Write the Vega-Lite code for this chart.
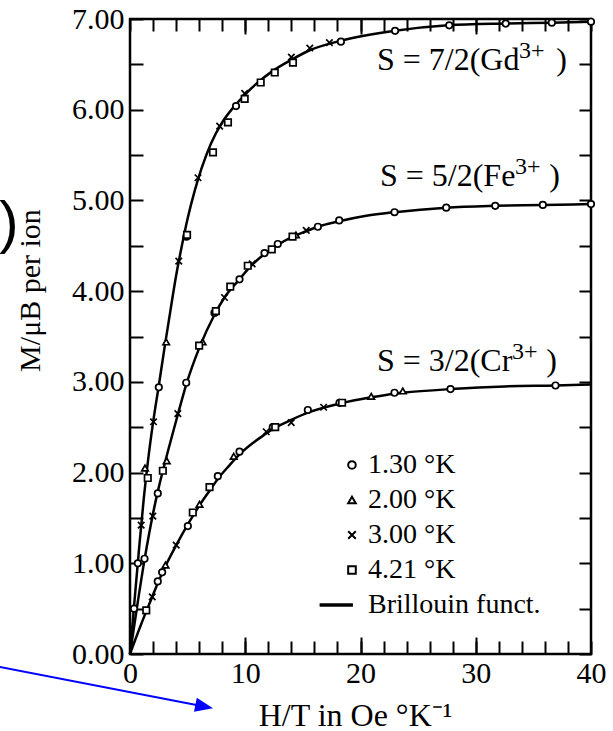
{
  "$schema": "https://vega.github.io/schema/vega-lite/v6.json",
  "width": 461,
  "height": 635,
  "autosize": {"type": "none"},
  "padding": {"left": 130, "top": 19, "right": 22, "bottom": 77},
  "background": "white",
  "config": {
    "font": "Liberation Serif",
    "view": {"stroke": "black", "strokeWidth": 2.5},
    "axis": {
      "grid": false,
      "domain": false,
      "tickColor": "black",
      "tickWidth": 2,
      "labelColor": "black",
      "titleColor": "black",
      "labelFont": "Liberation Serif",
      "titleFont": "Liberation Serif",
      "labelFlush": false,
      "labelOverlap": false,
      "titleFontWeight": "normal"
    }
  },
  "datasets": {
    "curves": [
      {"S": "7/2", "x": 0, "y": 0}, {"S": "7/2", "x": 0.4, "y": 0.6}, {"S": "7/2", "x": 0.8, "y": 1.18}, {"S": "7/2", "x": 1.2, "y": 1.72},
      {"S": "7/2", "x": 1.6, "y": 2.17}, {"S": "7/2", "x": 2.0, "y": 2.55}, {"S": "7/2", "x": 2.5, "y": 2.96}, {"S": "7/2", "x": 3.0, "y": 3.38},
      {"S": "7/2", "x": 3.5, "y": 3.78}, {"S": "7/2", "x": 4.0, "y": 4.17}, {"S": "7/2", "x": 4.5, "y": 4.5}, {"S": "7/2", "x": 5.0, "y": 4.8},
      {"S": "7/2", "x": 5.6, "y": 5.1}, {"S": "7/2", "x": 6.2, "y": 5.35}, {"S": "7/2", "x": 7.0, "y": 5.62}, {"S": "7/2", "x": 8.0, "y": 5.86},
      {"S": "7/2", "x": 9.0, "y": 6.03}, {"S": "7/2", "x": 10.0, "y": 6.17}, {"S": "7/2", "x": 11.0, "y": 6.29}, {"S": "7/2", "x": 12.3, "y": 6.42},
      {"S": "7/2", "x": 14.0, "y": 6.55}, {"S": "7/2", "x": 15.5, "y": 6.65}, {"S": "7/2", "x": 18.3, "y": 6.76}, {"S": "7/2", "x": 23.0, "y": 6.87},
      {"S": "7/2", "x": 27.6, "y": 6.93}, {"S": "7/2", "x": 32.6, "y": 6.95}, {"S": "7/2", "x": 36.6, "y": 6.96}, {"S": "7/2", "x": 40, "y": 6.97},
      {"S": "5/2", "x": 0, "y": 0}, {"S": "5/2", "x": 0.6, "y": 0.51}, {"S": "5/2", "x": 1.26, "y": 1.04}, {"S": "5/2", "x": 2.0, "y": 1.55},
      {"S": "5/2", "x": 2.41, "y": 1.79}, {"S": "5/2", "x": 2.85, "y": 2.02}, {"S": "5/2", "x": 3.3, "y": 2.24}, {"S": "5/2", "x": 4.15, "y": 2.64},
      {"S": "5/2", "x": 4.88, "y": 2.97}, {"S": "5/2", "x": 6.03, "y": 3.38}, {"S": "5/2", "x": 7.33, "y": 3.74}, {"S": "5/2", "x": 8.2, "y": 3.93},
      {"S": "5/2", "x": 9.5, "y": 4.13}, {"S": "5/2", "x": 10.22, "y": 4.24}, {"S": "5/2", "x": 11.67, "y": 4.41}, {"S": "5/2", "x": 12.82, "y": 4.51},
      {"S": "5/2", "x": 14.13, "y": 4.6}, {"S": "5/2", "x": 15.29, "y": 4.66}, {"S": "5/2", "x": 16.3, "y": 4.71}, {"S": "5/2", "x": 18.15, "y": 4.77},
      {"S": "5/2", "x": 20.5, "y": 4.83}, {"S": "5/2", "x": 22.95, "y": 4.87}, {"S": "5/2", "x": 27.44, "y": 4.92}, {"S": "5/2", "x": 31.69, "y": 4.94},
      {"S": "5/2", "x": 35.82, "y": 4.95}, {"S": "5/2", "x": 40, "y": 4.96},
      {"S": "3/2", "x": 0, "y": 0}, {"S": "3/2", "x": 0.7, "y": 0.24}, {"S": "3/2", "x": 1.41, "y": 0.47}, {"S": "3/2", "x": 1.93, "y": 0.63},
      {"S": "3/2", "x": 2.41, "y": 0.78}, {"S": "3/2", "x": 2.79, "y": 0.89}, {"S": "3/2", "x": 3.08, "y": 0.97}, {"S": "3/2", "x": 4.01, "y": 1.2},
      {"S": "3/2", "x": 5.02, "y": 1.43}, {"S": "3/2", "x": 5.45, "y": 1.52}, {"S": "3/2", "x": 6.03, "y": 1.64}, {"S": "3/2", "x": 6.9, "y": 1.8},
      {"S": "3/2", "x": 7.62, "y": 1.93}, {"S": "3/2", "x": 8.63, "y": 2.08}, {"S": "3/2", "x": 9.5, "y": 2.2}, {"S": "3/2", "x": 10.6, "y": 2.32},
      {"S": "3/2", "x": 11.82, "y": 2.43}, {"S": "3/2", "x": 12.39, "y": 2.48}, {"S": "3/2", "x": 13.99, "y": 2.58}, {"S": "3/2", "x": 15.43, "y": 2.66},
      {"S": "3/2", "x": 18.18, "y": 2.76}, {"S": "3/2", "x": 20.93, "y": 2.83}, {"S": "3/2", "x": 22.95, "y": 2.87}, {"S": "3/2", "x": 23.67, "y": 2.88},
      {"S": "3/2", "x": 27.81, "y": 2.92}, {"S": "3/2", "x": 32.5, "y": 2.95}, {"S": "3/2", "x": 36.92, "y": 2.96}, {"S": "3/2", "x": 40, "y": 2.97}
    ],
    "points": [
      {"T": "1.30 °K", "x": 0.35, "y": 0.5}, {"T": "1.30 °K", "x": 0.68, "y": 1.0}, {"T": "1.30 °K", "x": 2.5, "y": 2.94}, {"T": "1.30 °K", "x": 4.9, "y": 4.6},
      {"T": "1.30 °K", "x": 9.2, "y": 6.04}, {"T": "1.30 °K", "x": 18.3, "y": 6.75}, {"T": "1.30 °K", "x": 23.0, "y": 6.87}, {"T": "1.30 °K", "x": 27.7, "y": 6.93},
      {"T": "1.30 °K", "x": 32.6, "y": 6.95}, {"T": "1.30 °K", "x": 36.6, "y": 6.96}, {"T": "1.30 °K", "x": 40, "y": 6.97},
      {"T": "2.00 °K", "x": 1.3, "y": 2.05}, {"T": "2.00 °K", "x": 3.14, "y": 3.44},
      {"T": "3.00 °K", "x": 0.97, "y": 1.42}, {"T": "3.00 °K", "x": 2.04, "y": 2.56}, {"T": "3.00 °K", "x": 4.23, "y": 4.33}, {"T": "3.00 °K", "x": 5.9, "y": 5.25},
      {"T": "3.00 °K", "x": 7.78, "y": 5.82}, {"T": "3.00 °K", "x": 9.95, "y": 6.18}, {"T": "3.00 °K", "x": 14.0, "y": 6.58}, {"T": "3.00 °K", "x": 15.6, "y": 6.68},
      {"T": "3.00 °K", "x": 17.3, "y": 6.74},
      {"T": "4.21 °K", "x": 1.54, "y": 1.94}, {"T": "4.21 °K", "x": 4.95, "y": 4.62}, {"T": "4.21 °K", "x": 7.2, "y": 5.53}, {"T": "4.21 °K", "x": 8.5, "y": 5.86},
      {"T": "4.21 °K", "x": 9.95, "y": 6.12}, {"T": "4.21 °K", "x": 11.34, "y": 6.3}, {"T": "4.21 °K", "x": 12.56, "y": 6.41}, {"T": "4.21 °K", "x": 14.14, "y": 6.52},
      {"T": "1.30 °K", "x": 1.26, "y": 1.05}, {"T": "1.30 °K", "x": 2.41, "y": 1.77}, {"T": "1.30 °K", "x": 4.88, "y": 2.99}, {"T": "1.30 °K", "x": 7.33, "y": 3.76},
      {"T": "1.30 °K", "x": 9.5, "y": 4.13}, {"T": "1.30 °K", "x": 11.67, "y": 4.42}, {"T": "1.30 °K", "x": 12.82, "y": 4.52}, {"T": "1.30 °K", "x": 16.3, "y": 4.71},
      {"T": "1.30 °K", "x": 18.15, "y": 4.78}, {"T": "1.30 °K", "x": 22.95, "y": 4.87}, {"T": "1.30 °K", "x": 27.44, "y": 4.92}, {"T": "1.30 °K", "x": 31.69, "y": 4.94},
      {"T": "1.30 °K", "x": 35.82, "y": 4.95}, {"T": "1.30 °K", "x": 40, "y": 4.96},
      {"T": "2.00 °K", "x": 3.19, "y": 2.13}, {"T": "2.00 °K", "x": 6.3, "y": 3.44}, {"T": "2.00 °K", "x": 14.4, "y": 4.62},
      {"T": "3.00 °K", "x": 1.98, "y": 1.52}, {"T": "3.00 °K", "x": 4.15, "y": 2.65}, {"T": "3.00 °K", "x": 8.2, "y": 3.93}, {"T": "3.00 °K", "x": 10.6, "y": 4.3},
      {"T": "3.00 °K", "x": 15.29, "y": 4.67},
      {"T": "4.21 °K", "x": 2.85, "y": 2.02}, {"T": "4.21 °K", "x": 6.0, "y": 3.4}, {"T": "4.21 °K", "x": 7.45, "y": 3.78}, {"T": "4.21 °K", "x": 8.7, "y": 4.05},
      {"T": "4.21 °K", "x": 10.22, "y": 4.28}, {"T": "4.21 °K", "x": 12.3, "y": 4.46}, {"T": "4.21 °K", "x": 14.1, "y": 4.6},
      {"T": "1.30 °K", "x": 2.41, "y": 0.8}, {"T": "1.30 °K", "x": 2.79, "y": 0.9}, {"T": "1.30 °K", "x": 5.02, "y": 1.41}, {"T": "1.30 °K", "x": 7.62, "y": 1.96},
      {"T": "1.30 °K", "x": 9.5, "y": 2.23}, {"T": "1.30 °K", "x": 12.39, "y": 2.5}, {"T": "1.30 °K", "x": 15.43, "y": 2.69}, {"T": "1.30 °K", "x": 18.18, "y": 2.77},
      {"T": "1.30 °K", "x": 22.95, "y": 2.88}, {"T": "1.30 °K", "x": 27.81, "y": 2.92}, {"T": "1.30 °K", "x": 36.92, "y": 2.96},
      {"T": "2.00 °K", "x": 3.08, "y": 0.98}, {"T": "2.00 °K", "x": 6.03, "y": 1.65}, {"T": "2.00 °K", "x": 9.0, "y": 2.18}, {"T": "2.00 °K", "x": 20.93, "y": 2.84},
      {"T": "2.00 °K", "x": 23.67, "y": 2.9},
      {"T": "3.00 °K", "x": 1.93, "y": 0.63}, {"T": "3.00 °K", "x": 4.01, "y": 1.2}, {"T": "3.00 °K", "x": 11.82, "y": 2.45}, {"T": "3.00 °K", "x": 13.99, "y": 2.55},
      {"T": "3.00 °K", "x": 16.8, "y": 2.72},
      {"T": "4.21 °K", "x": 1.41, "y": 0.48}, {"T": "4.21 °K", "x": 5.45, "y": 1.56}, {"T": "4.21 °K", "x": 6.9, "y": 1.84}, {"T": "4.21 °K", "x": 12.6, "y": 2.5},
      {"T": "4.21 °K", "x": 18.4, "y": 2.77}
    ],
    "legend": [
      {"T": "1.30 °K", "x": 19.26, "y": 2.084},
      {"T": "2.00 °K", "x": 19.26, "y": 1.698},
      {"T": "3.00 °K", "x": 19.26, "y": 1.312},
      {"T": "4.21 °K", "x": 19.26, "y": 0.926},
      {"T": "Brillouin funct.", "x": 19.26, "y": 0.54}
    ],
    "labels": [
      {"main": "S = 7/2(Gd", "sup": "3+", "x": 21.43, "y": 6.44, "xs": 33.75, "ys": 6.57, "xp": 36.98},
      {"main": "S = 5/2(Fe", "sup": "3+", "x": 21.69, "y": 5.16, "xs": 33.41, "ys": 5.29, "xp": 36.38},
      {"main": "S = 3/2(Cr", "sup": "3+", "x": 21.43, "y": 3.12, "xs": 33.14, "ys": 3.25, "xp": 36.12}
    ],
    "paren": [{"label": ")", "x": -10.5, "y": 4.73}],
    "arrow": [{"x": -11.3, "y": -0.143, "x2": 6.44, "y2": -0.579}]
  },
  "resolve": {"axis": {"x": "independent", "y": "independent"}},
  "layer": [
    {
      "data": {"name": "curves"},
      "mark": {"type": "line", "color": "black", "strokeWidth": 2.5, "interpolate": "monotone"},
      "encoding": {
        "detail": {"field": "S", "type": "nominal"},
        "x": {
          "field": "x", "type": "quantitative",
          "scale": {"domain": [0, 40], "nice": false, "zero": false},
          "axis": {
            "orient": "bottom",
            "values": [0, 2, 4, 6, 8, 10, 12, 14, 16, 18, 20, 22, 24, 26, 28, 30, 32, 34, 36, 38, 40],
            "tickSize": -13,
            "labelExpr": "datum.value % 10 === 0 ? datum.label : ''",
            "labelFontSize": 30,
            "labelBaseline": "alphabetic",
            "labelAlign": "center",
            "labelPadding": 41.7,
            "title": "H/T in Oe °K⁻¹",
            "titleFontSize": 32,
            "titleX": 225,
            "titleY": 71,
            "titleBaseline": "alphabetic",
            "titleAlign": "center"
          }
        },
        "y": {
          "field": "y", "type": "quantitative",
          "scale": {"domain": [0, 7], "nice": false, "zero": false},
          "axis": {
            "orient": "left",
            "values": [0, 0.5, 1, 1.5, 2, 2.5, 3, 3.5, 4, 4.5, 5, 5.5, 6, 6.5, 7],
            "tickSize": -13,
            "labelExpr": "datum.value % 1 === 0 ? format(datum.value, '.2f') : ''",
            "labelFontSize": 30,
            "labelBaseline": "middle",
            "labelAlign": "right",
            "labelPadding": 19,
            "title": "M/μB per ion",
            "titleFontSize": 30,
            "titleAngle": -90,
            "titleX": -91,
            "titleY": 271,
            "titleBaseline": "alphabetic",
            "titleAlign": "center"
          }
        }
      }
    },
    {
      "data": {"name": "points"},
      "mark": {"type": "point", "fill": "white", "fillOpacity": 1, "stroke": "black", "strokeWidth": 1.7, "size": 42, "opacity": 1},
      "encoding": {
        "x": {
          "field": "x", "type": "quantitative",
          "scale": {"domain": [0, 40], "nice": false, "zero": false},
          "axis": {
            "orient": "top",
            "values": [0, 2, 4, 6, 8, 10, 12, 14, 16, 18, 20, 22, 24, 26, 28, 30, 32, 34, 36, 38, 40],
            "tickSize": -12, "labels": false, "title": null
          }
        },
        "y": {
          "field": "y", "type": "quantitative",
          "scale": {"domain": [0, 7], "nice": false, "zero": false},
          "axis": {
            "orient": "right",
            "values": [0, 0.5, 1, 1.5, 2, 2.5, 3, 3.5, 4, 4.5, 5, 5.5, 6, 6.5, 7],
            "tickSize": -12, "labels": false, "title": null
          }
        },
        "shape": {
          "field": "T", "type": "nominal",
          "scale": {
            "domain": ["1.30 °K", "2.00 °K", "3.00 °K", "4.21 °K", "Brillouin funct."],
            "range": ["circle", "triangle-up", "M-1,-1L1,1M-1,1L1,-1", "square", "M-8.5,-0.17H0.25M-8.5,0.17H0.25"]
          },
          "legend": null
        }
      }
    },
    {
      "data": {"name": "legend"},
      "mark": {"type": "point", "fill": "white", "fillOpacity": 1, "stroke": "black", "strokeWidth": 2, "size": 58, "opacity": 1},
      "encoding": {
        "x": {"field": "x", "type": "quantitative", "scale": {"domain": [0, 40], "nice": false, "zero": false}, "axis": null},
        "y": {"field": "y", "type": "quantitative", "scale": {"domain": [0, 7], "nice": false, "zero": false}, "axis": null},
        "shape": {"field": "T", "type": "nominal", "legend": null}
      }
    },
    {
      "data": {"name": "legend"},
      "mark": {"type": "text", "align": "left", "baseline": "middle", "dx": 16, "fontSize": 28, "font": "Liberation Serif", "color": "black"},
      "encoding": {
        "text": {"field": "T"},
        "x": {"field": "x", "type": "quantitative", "scale": {"domain": [0, 40], "nice": false, "zero": false}, "axis": null},
        "y": {"field": "y", "type": "quantitative", "scale": {"domain": [0, 7], "nice": false, "zero": false}, "axis": null}
      }
    },
    {
      "data": {"name": "labels"},
      "mark": {"type": "text", "align": "left", "baseline": "alphabetic", "fontSize": 32, "font": "Liberation Serif", "color": "black"},
      "encoding": {
        "text": {"field": "main"},
        "x": {
          "field": "x", "type": "quantitative",
          "scale": {"domain": [0, 40], "nice": false, "zero": false},
          "axis": {"orient": "bottom", "values": [10, 20, 30], "tickSize": -17, "labels": false, "title": null}
        },
        "y": {
          "field": "y", "type": "quantitative",
          "scale": {"domain": [0, 7], "nice": false, "zero": false},
          "axis": null
        }
      }
    },
    {
      "data": {"name": "labels"},
      "mark": {"type": "text", "align": "left", "baseline": "alphabetic", "fontSize": 24, "font": "Liberation Serif", "color": "black"},
      "encoding": {
        "text": {"field": "sup"},
        "x": {"field": "xs", "type": "quantitative", "scale": {"domain": [0, 40], "nice": false, "zero": false}, "axis": null},
        "y": {"field": "ys", "type": "quantitative", "scale": {"domain": [0, 7], "nice": false, "zero": false}, "axis": null}
      }
    },
    {
      "data": {"name": "labels"},
      "mark": {"type": "text", "align": "left", "baseline": "alphabetic", "fontSize": 32, "font": "Liberation Serif", "color": "black", "text": ")"},
      "encoding": {
        "x": {"field": "xp", "type": "quantitative", "scale": {"domain": [0, 40], "nice": false, "zero": false}, "axis": null},
        "y": {"field": "y", "type": "quantitative", "scale": {"domain": [0, 7], "nice": false, "zero": false}, "axis": null}
      }
    },
    {
      "data": {"name": "paren"},
      "mark": {"type": "text", "align": "center", "baseline": "middle", "fontSize": 58, "font": "Liberation Sans", "color": "black"},
      "encoding": {
        "text": {"field": "label"},
        "x": {
          "field": "x", "type": "quantitative",
          "scale": {"domain": [0, 40], "nice": false, "zero": false},
          "axis": {"orient": "top", "values": [10, 20, 30], "tickSize": -15, "labels": false, "title": null}
        },
        "y": {
          "field": "y", "type": "quantitative",
          "scale": {"domain": [0, 7], "nice": false, "zero": false},
          "axis": null
        }
      }
    },
    {
      "data": {"name": "arrow"},
      "mark": {"type": "rule", "color": "#0000ff", "strokeWidth": 2},
      "encoding": {
        "x": {"field": "x", "type": "quantitative", "scale": {"domain": [0, 40], "nice": false, "zero": false}, "axis": null},
        "y": {"field": "y", "type": "quantitative", "scale": {"domain": [0, 7], "nice": false, "zero": false}, "axis": null},
        "x2": {"field": "x2"},
        "y2": {"field": "y2"}
      }
    },
    {
      "data": {"name": "arrow"},
      "mark": {"type": "point", "shape": "M-1,-0.8L1,0L-1,0.8Z", "size": 324, "angle": 11.3, "filled": true, "color": "#0000ff", "opacity": 1},
      "encoding": {
        "x": {"field": "x2", "type": "quantitative", "scale": {"domain": [0, 40], "nice": false, "zero": false}, "axis": null},
        "y": {"field": "y2", "type": "quantitative", "scale": {"domain": [0, 7], "nice": false, "zero": false}, "axis": null}
      }
    }
  ]
}
